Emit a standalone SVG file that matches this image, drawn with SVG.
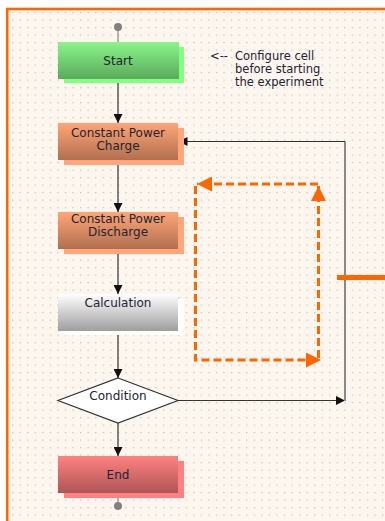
<svg xmlns="http://www.w3.org/2000/svg" width="385" height="521" viewBox="0 0 385 521">
<style>
.t{font-family:"DejaVu Sans",Verdana,sans-serif;font-size:12px;fill:#222233;text-anchor:middle}
.a{font-family:"DejaVu Sans",Verdana,sans-serif;font-size:11.5px;fill:#222233}
.c{stroke:#333;stroke-width:1.2;fill:none}
.o{stroke:#ff6600;stroke-width:3;fill:none;stroke-dasharray:8 4}
</style>
<defs>
<pattern id="dots" x="12" y="12" width="7.55" height="7.5" patternUnits="userSpaceOnUse">
<rect x="0" y="0" width="1.3" height="1.3" fill="#cdc4bb"/>
</pattern>
<linearGradient id="gG" x1="0" y1="0" x2="0" y2="1"><stop offset="0" stop-color="#8af58a"/><stop offset="1" stop-color="#5aaa5a"/></linearGradient>
<linearGradient id="gO" x1="0" y1="0" x2="0" y2="1"><stop offset="0" stop-color="#ffa676"/><stop offset="1" stop-color="#b06f50"/></linearGradient>
<linearGradient id="gS" x1="0" y1="0" x2="0" y2="1"><stop offset="0" stop-color="#ffffff"/><stop offset="1" stop-color="#9e9e9e"/></linearGradient>
<linearGradient id="gR" x1="0" y1="0" x2="0" y2="1"><stop offset="0" stop-color="#ff8282"/><stop offset="1" stop-color="#ad5555"/></linearGradient>
<marker id="ar" viewBox="0 0 10 10" refX="10" refY="5" markerWidth="9" markerHeight="9" markerUnits="userSpaceOnUse" orient="auto"><path d="M0,0 L10,5 L0,10 Z" fill="#111"/></marker>
<marker id="ao" viewBox="0 0 10 10" refX="10" refY="5" markerWidth="16" markerHeight="15" markerUnits="userSpaceOnUse" orient="auto"><path d="M0,0 L10,5 L0,10 Z" fill="#ff6600"/></marker>
</defs>
<rect x="0" y="0" width="385" height="521" fill="#ffffff"/>
<rect x="7.2" y="9" width="390" height="520" fill="#fdf6ef" stroke="#ff6600" stroke-width="2.6"/>
<rect x="9" y="10.5" width="376" height="511" fill="url(#dots)"/>

<g id="annotation">
<text class="a" x="210" y="60">&lt;--</text>
<text class="a" x="235" y="60">Configure cell</text>
<text class="a" x="235" y="73">before starting</text>
<text class="a" x="235" y="86">the experiment</text>
</g>

<g id="connectors">
<line x1="118" y1="27" x2="118" y2="42" stroke="#888" stroke-width="1.2"/>
<line class="c" x1="118" y1="79" x2="118" y2="123" marker-end="url(#ar)"/>
<line class="c" x1="118" y1="160" x2="118" y2="212" marker-end="url(#ar)"/>
<line class="c" x1="118" y1="249" x2="118" y2="294" marker-end="url(#ar)"/>
<line class="c" x1="118" y1="331" x2="118" y2="378" marker-end="url(#ar)"/>
<line class="c" x1="118" y1="423" x2="118" y2="456" marker-end="url(#ar)"/>
<line x1="118" y1="493" x2="118" y2="506" stroke="#888" stroke-width="1.2"/>
<line class="c" x1="178" y1="400.5" x2="345" y2="400.5" marker-end="url(#ar)"/>
<line x1="345" y1="141.5" x2="345" y2="401" stroke="#888" stroke-width="2"/>
<line class="c" x1="345" y1="141.5" x2="178.5" y2="141.5" marker-end="url(#ar)"/>
<line x1="337" y1="277.5" x2="385" y2="277.5" stroke="#ff6600" stroke-width="5"/>
<polyline class="o" points="195.5,186 195.5,360 321,360" marker-end="url(#ao)"/>
<line class="o" x1="318.5" y1="358" x2="318.5" y2="186" marker-end="url(#ao)"/>
<line class="o" x1="318" y1="184" x2="197" y2="184" marker-end="url(#ao)"/>
<circle cx="118" cy="27" r="4" fill="#808080"/>
<circle cx="118" cy="506" r="4" fill="#808080"/>
</g>

<g id="start">
<rect x="64" y="47" width="120" height="36" fill="#80ff80"/>
<rect x="58" y="42" width="121" height="37" fill="url(#gG)"/>
<text class="t" x="118" y="64.5">Start</text>
</g>

<g id="charge">
<rect x="64" y="128" width="120" height="37" fill="#ffa67a"/>
<rect x="58" y="123" width="120" height="37" fill="url(#gO)"/>
<text class="t" x="118" y="137">Constant Power</text>
<text class="t" x="118" y="150">Charge</text>
</g>

<g id="discharge">
<rect x="64" y="217" width="120" height="37" fill="#ffa67a"/>
<rect x="58" y="212" width="120" height="37" fill="url(#gO)"/>
<text class="t" x="118" y="223">Constant Power</text>
<text class="t" x="118" y="236">Discharge</text>
</g>

<g id="calculation">
<rect x="64" y="299" width="120" height="36" fill="#ffffff"/>
<rect x="58" y="294" width="120" height="37" fill="url(#gS)"/>
<text class="t" x="118" y="307">Calculation</text>
</g>

<g id="condition">
<polygon points="118,378 178,400.5 118,423 58,400.5" fill="#ffffff" stroke="#333" stroke-width="1.2"/>
<text class="t" x="118" y="400">Condition</text>
</g>

<g id="end">
<rect x="64" y="461" width="120" height="37" fill="#ff8080"/>
<rect x="58" y="456" width="120" height="37" fill="url(#gR)"/>
<text class="t" x="118" y="478.5">End</text>
</g>
</svg>
